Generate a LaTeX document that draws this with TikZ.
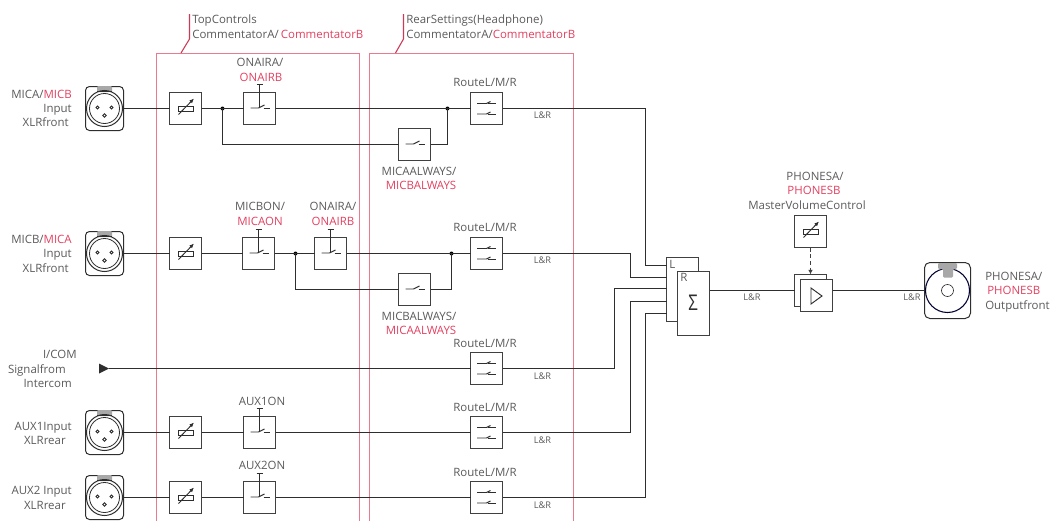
\documentclass[tikz,border=0pt]{standalone}
\usepackage{fontspec}
\usepackage{graphicx}
\setmainfont{Open Sans}
\usetikzlibrary{arrows.meta}
\definecolor{ink}{HTML}{2E2E2E}
\definecolor{boxl}{HTML}{404040}
\definecolor{txt}{HTML}{5A5A5A}
\definecolor{redt}{HTML}{E2405F}
\definecolor{frame}{HTML}{EA7A90}
\definecolor{tabg}{HTML}{A8A8A8}
\def\px{0.75pt}
\newcommand{\rd}[1]{\textcolor{redt}{#1}}
\tikzset{
  x=0.75pt,y=-0.75pt,
  wire/.style={draw=ink,line width=0.85pt},
  blk/.style={draw=boxl,fill=white,line width=0.85pt,minimum width=32*\px,minimum height=32*\px,inner sep=0pt,outer sep=0pt},
  tall/.style={draw=boxl,fill=white,line width=0.85pt,inner sep=0pt,outer sep=0pt},
  jack/.style={draw=ink,fill=white,line width=0.75pt,rounded corners=3pt,inner sep=0pt,outer sep=0pt,minimum width=38*\px,minimum height=44*\px},
  dotj/.style={circle,fill=black,inner sep=0pt,minimum size=4*\px},
  lbl/.style={text=txt,font=\fontsize{8.6}{10}\selectfont,inner sep=0pt},
  lc/.style={lbl,anchor=base},
  lr/.style={lbl,anchor=base east},
  ll/.style={lbl,anchor=base west},
  sm/.style={text=txt,font=\fontsize{6.9}{8}\selectfont,inner sep=0pt,anchor=base west},
  framel/.style={draw=frame,line width=0.8pt},
  lead/.style={draw=redt!90!black,line width=0.8pt},
  pics/xlrface/.style={code={
    \fill[tabg,rounded corners=0.8pt] (-7.5,-22.5) rectangle (7.5,-16.5);
    \draw[ink,line width=0.5pt] (-7.5,-17) -- (7.5,-17);
    \draw[ink,line width=0.75pt] (0,0) circle[radius=18];
    \draw[ink,line width=0.6pt] (0,0) circle[radius=15];
    \draw[ink,line width=0.6pt] (-7,-1) circle[radius=1.5] (7,-1) circle[radius=1.5] (0,7) circle[radius=1.8];
  }},
  pics/faderface/.style={code={
    \draw[ink,line width=0.7pt] (-7.5,-2.5) rectangle (7.5,2.5);
    \draw[ink,line width=0.7pt,-{Latex[length=3.5pt,width=3pt]}] (-7,6) -- (8.5,-10);
  }},
  pics/swface/.style={code={
    \draw[ink,line width=0.7pt] (-9,-0.5) -- (-1,-0.5) -- (5,-3.5);
    \draw[ink,line width=0.7pt] (4,0) -- (10,0);
  }},
  pics/stemface/.style={code={
    \draw[ink,line width=0.7pt] (-3,-24) -- (3,-24);
    \draw[ink,line width=0.7pt] (0,-24) -- (0,-2);
  }},
  pics/routeface/.style={code={
    \draw[ink,line width=0.7pt] (-9.5,-5) -- (0,-5) -- (4,-7);
    \draw[ink,line width=0.7pt] (1,-5) -- (9.5,-5);
    \draw[ink,line width=0.7pt] (-9.5,5.5) -- (0,5.5) -- (4,3.5);
    \draw[ink,line width=0.7pt] (1,5.5) -- (9.5,5.5);
  }},
}
\begin{document}
\begin{tikzpicture}
\useasboundingbox (0,0) rectangle (1054,521);

% red frames
\coordinate (fa1) at (156.5,521); \coordinate (fa2) at (156.5,53.5);
\coordinate (fa3) at (359.5,53.5);  \coordinate (fa4) at (359.5,521);
\coordinate (fb1) at (369.5,521); \coordinate (fb2) at (369.5,53.5);
\coordinate (fb3) at (573.5,53.5);  \coordinate (fb4) at (573.5,521);
\draw[framel] (fa1) -- (fa2) -- (fa3) -- (fa4);
\draw[framel] (fb1) -- (fb2) -- (fb3) -- (fb4);
\coordinate (la1) at (189.5,14); \coordinate (la2) at (189.5,39); \coordinate (la3) at (181,53);
\coordinate (lb1) at (403.5,14); \coordinate (lb2) at (403.5,39); \coordinate (lb3) at (395.5,53);
\draw[lead] (la1) -- (la2) -- (la3);
\draw[lead] (lb1) -- (lb2) -- (lb3);
\node[ll] (tTop) at (192,23) {TopControls};
\node[ll] (tTopB) at (192,38) {CommentatorA/\kern1.6pt\rd{CommentatorB}};
\node[ll] (tRear) at (406,23) {RearSettings(Headphone)};
\node[ll] (tRearB) at (406,38) {CommentatorA/\rd{CommentatorB}};

% sockets
\node[jack] (x1) at (104.5,108.5) {};
\node[jack] (x2) at (104.5,253.5) {};
\node[jack] (x4) at (104.5,432.5) {};
\node[jack] (x5) at (104.5,497.5) {};
\foreach \n in {x1,x2,x4,x5} {\pic at (\n) {xlrface};}

% level controls
\node[blk] (f1) at (185.5,108.5) {};
\node[blk] (f2) at (185.5,253.5) {};
\node[blk] (f4) at (185.5,432.5) {};
\node[blk] (f5) at (185.5,497.5) {};
\node[blk] (fm) at (810.5,231.5) {};
\foreach \n in {f1,f2,f4,f5,fm} {\pic at (\n) {faderface};}

% push switches
\node[blk] (s1) at (259.5,108.5) {};
\node[blk] (s2) at (258.5,253.5) {};
\node[blk] (s2b) at (330.5,253.5) {};
\node[blk] (s4) at (259.5,432.5) {};
\node[blk] (s5) at (259.5,497.5) {};
\foreach \n in {s1,s2,s2b,s4,s5} {\pic at (\n) {swface}; \pic at (\n) {stemface};}

% always switches
\node[blk] (a1) at (414.5,144.5) {};
\node[blk] (a2) at (414.5,289.5) {};
\foreach \n in {a1,a2} {\pic at (\n) {swface};}

% route switches
\node[blk] (r1) at (486.5,108.5) {};
\node[blk] (r2) at (486.5,253.5) {};
\node[blk] (r3) at (486.5,368.5) {};
\node[blk] (r4) at (486.5,432.5) {};
\node[blk] (r5) at (486.5,497.5) {};
\foreach \n in {r1,r2,r3,r4,r5} {\pic at (\n) {routeface};}

% junctions
\node[dotj] (j1a) at (222.5,108.5) {};
\node[dotj] (j1b) at (447.5,108.5) {};
\node[dotj] (j2a) at (295.5,253.5) {};
\node[dotj] (j2b) at (451.5,253.5) {};

% I/COM source
\coordinate (ic) at (109,368.5);
\coordinate (ia) at (99,363.5); \coordinate (ib) at (99,373.5);
\fill[ink] (ic) -- (ia) -- (ib) -- cycle;

% row wires
\draw[wire] (x1.east) -- (f1.west);
\draw[wire] (f1.east) -- (j1a.center) -- (s1.west);
\draw[wire] (s1.east) -- (j1b.center) -- (r1.west);
\draw[wire] (j1a.center) |- (a1.west);
\draw[wire] (a1.east) -| (j1b.center);

\draw[wire] (x2.east) -- (f2.west);
\draw[wire] (f2.east) -- (s2.west);
\draw[wire] (s2.east) -- (j2a.center) -- (s2b.west);
\draw[wire] (s2b.east) -- (j2b.center) -- (r2.west);
\draw[wire] (j2a.center) |- (a2.west);
\draw[wire] (a2.east) -| (j2b.center);

\draw[wire] (ic) -- (r3.west);

\draw[wire] (x4.east) -- (f4.west);
\draw[wire] (f4.east) -- (s4.west);
\draw[wire] (s4.east) -- (r4.west);

\draw[wire] (x5.east) -- (f5.west);
\draw[wire] (f5.east) -- (s5.west);
\draw[wire] (s5.east) -- (r5.west);

% bus
\coordinate (v1) at (645.5,265.5);
\coordinate (v2) at (630.5,277.5);
\coordinate (v3) at (614.5,288.5);
\coordinate (v4) at (630.5,301.5);
\coordinate (v5) at (645.5,313.5);
\node[tall,minimum width=32*\px,minimum height=64*\px] (L) at (682.5,289.5) {};
\draw[wire] (r1.east) -| (v1) -- (L.west |- v1);
\draw[wire] (r2.east) -| (v2) -- (L.west |- v2);
\draw[wire] (r3.east) -| (v3) -- (L.west |- v3);
\draw[wire] (r4.east) -| (v4) -- (L.west |- v4);
\draw[wire] (r5.east) -| (v5) -- (L.west |- v5);
\node[lbl,anchor=base west] (tL) at (669,268) {L};
\node[tall,minimum width=32*\px,minimum height=64*\px] (R) at (693.5,303.5) {};
\node[lbl,anchor=base west] (tR) at (680,281) {R};
\node[text=ink,inner sep=0pt,font=\fontsize{12.5}{14}\selectfont] (sig) at (693,303) {\scalebox{1}[1.3]{Σ}};

% amplifier
\node[tall,minimum width=32*\px,minimum height=32*\px] (ampb) at (810.5,290.5) {};
\node[blk] (amp) at (816.5,295.5) {};
\coordinate (t1) at (811,288); \coordinate (t2) at (811,304); \coordinate (t3) at (822,296);
\draw[ink,line width=0.7pt] (t1) -- (t3) -- (t2) -- cycle;
\draw[wire] (R.east |- ampb) -- (ampb.west);
\draw[draw=boxl,line width=0.9pt,densely dashed,-{Latex[length=3.5pt,width=3.5pt]}] (fm.south) -- (ampb.north);

% phones socket
\node[jack,rounded corners=4pt,minimum width=46*\px,minimum height=56*\px] (ph) at (947.5,290.5) {};
\draw[wire] (amp.east |- ph) -- (ph.west);
\draw[draw=black!80!blue,line width=0.8pt] (ph) circle[radius=22];
\draw[ink,line width=0.5pt,fill=white] (ph) circle[radius=6];
\fill[tabg,rounded corners=0.8pt] (938,263) -- (957,263) -- (957,269) -- (953,269) -- (953,277.5) -- (943,277.5) -- (943,269) -- (938,269) -- cycle;

% labels: left column
\node[lr] (m1) at (72,98) {MICA/\rd{MICB}};
\node[lr] (m1i) at (72,112) {Input};
\node[lr] (m1x) at (69,126.5) {XLRfront};
\node[lr] (m2) at (72,243) {MICB/\rd{ MICA}};
\node[lr] (m2i) at (72,257) {Input};
\node[lr] (m2x) at (69,272) {XLRfront};
\node[lr] (i1) at (77,358) {I/COM};
\node[lr] (i2) at (66,373) {Signalfrom};
\node[lr] (i3) at (72,387) {Intercom};
\node[lr] (a1t) at (72,430) {AUX1Input};
\node[lr] (a1x) at (66,444) {XLRrear};
\node[lr] (a2t) at (72,494) {AUX2 Input};
\node[lr] (a2x) at (66,509) {XLRrear};

% labels: switches
\node[lc] (o1) at (260,66) {ONAIRA/};
\node[lc] (o1b) at (261,81) {\rd{ONAIRB}};
\node[lc] (o2) at (260,210) {MICBON/};
\node[lc] (o2b) at (260,225) {\rd{MICAON}};
\node[lc] (o3) at (333,210) {ONAIRA/};
\node[lc] (o3b) at (333,225) {\rd{ONAIRB}};
\node[lc] (o4) at (262,405) {AUX1ON};
\node[lc] (o5) at (262,469) {AUX2ON};
\node[lc] (t1a) at (419,175) {MICAALWAYS/};
\node[lc] (t1b) at (421,189) {\rd{MICBALWAYS}};
\node[lc] (t2a) at (419,320) {MICBALWAYS/};
\node[lc] (t2b) at (421,334) {\rd{MICAALWAYS}};
\node[lc] (rt1) at (485,86) {RouteL/M/R};
\node[lc] (rt2) at (485,231) {RouteL/M/R};
\node[lc] (rt3) at (485,347) {RouteL/M/R};
\node[lc] (rt4) at (485,411) {RouteL/M/R};
\node[lc] (rt5) at (485,476) {RouteL/M/R};

% labels: L&R
\node[sm] at (533.5,118) {L\&R};
\node[sm] at (533.5,263) {L\&R};
\node[sm] at (533.5,379) {L\&R};
\node[sm] at (533.5,443) {L\&R};
\node[sm] at (533.5,508) {L\&R};
\node[sm] at (743,300) {L\&R};
\node[sm] at (903,300) {L\&R};

% labels: master and output
\node[lc] (p1) at (815,180) {PHONESA/};
\node[lc] (p2) at (814,194) {\rd{PHONESB}};
\node[lc] (p3) at (807,209) {MasterVolumeControl};
\node[ll] (q1) at (985,280) {PHONESA/};
\node[ll] (q2) at (987,294) {\rd{PHONESB}};
\node[ll] (q3) at (985,309) {Outputfront};
\end{tikzpicture}
\end{document}
